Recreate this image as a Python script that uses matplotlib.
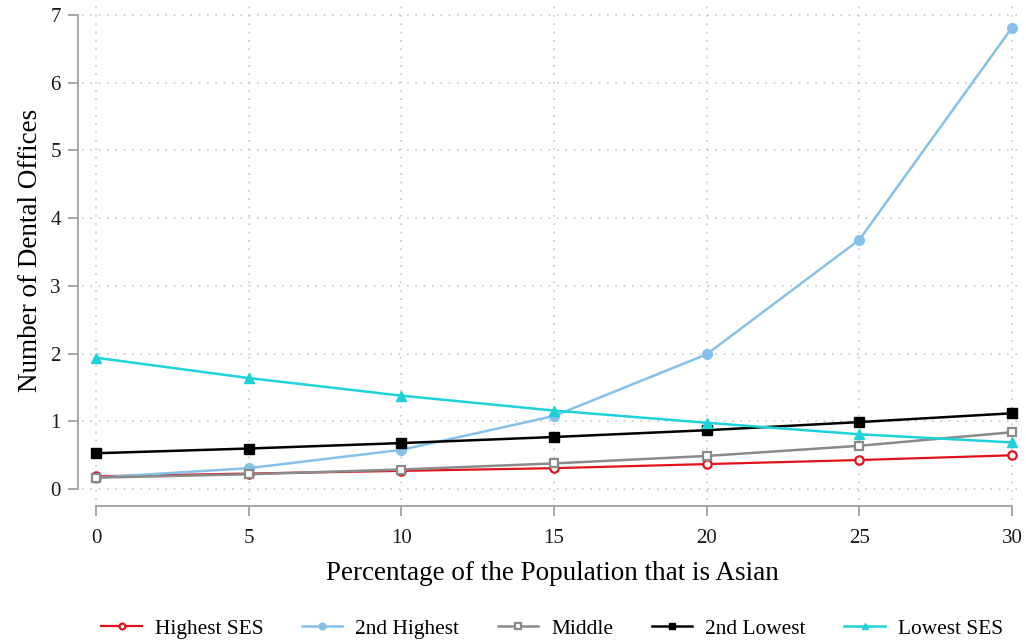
import numpy as np
import matplotlib
matplotlib.use("Agg")
import matplotlib.pyplot as plt

plt.rcParams['font.family'] = ['Liberation Serif', 'DejaVu Serif']

pct_asian = [0, 5, 10, 15, 20, 25, 30]
highest_ses = [0.19, 0.23, 0.27, 0.31, 0.37, 0.43, 0.50]
second_highest = [0.17, 0.31, 0.58, 1.08, 1.99, 3.68, 6.81]
middle = [0.17, 0.22, 0.29, 0.38, 0.49, 0.64, 0.84]
second_lowest = [0.53, 0.60, 0.68, 0.77, 0.87, 0.99, 1.12]
lowest_ses = [1.94, 1.64, 1.38, 1.16, 0.98, 0.81, 0.69]

x_ticks = [0, 5, 10, 15, 20, 25, 30]
y_ticks = [0, 1, 2, 3, 4, 5, 6, 7]

fig = plt.figure(figsize=(10.26, 6.44), dpi=100)
ax = fig.add_axes([82 / 1026, 144 / 644, 940 / 1026, 500 / 644])

ax.plot(pct_asian, highest_ses, color='#e0121b', lw=1.6, marker='o', ms=6,
        mfc='white', mec='#e0121b', mew=1.6, label='Highest SES')
ax.plot(pct_asian, second_highest, color='#85c1e9', lw=1.8, marker='o', ms=7,
        mfc='#85c1e9', mec='#85c1e9', label='2nd Highest')
ax.plot(pct_asian, middle, color='#8a8a8a', lw=1.8, marker='s', ms=6,
        mfc='white', mec='#8a8a8a', mew=1.6, label='Middle')
ax.plot(pct_asian, second_lowest, color='black', lw=1.8, marker='s', ms=7,
        mfc='black', mec='black', label='2nd Lowest')
ax.plot(pct_asian, lowest_ses, color='#1ed2d9', lw=1.8, marker='^', ms=7,
        mfc='#1ed2d9', mec='#1ed2d9', label='Lowest SES')

ax.set_xlim(-0.46, 30.33)
ax.set_ylim(-0.16, 7.22)
ax.set_xticks(x_ticks)
ax.set_yticks(y_ticks)

ax.grid(True, color='#c8c8c8', linestyle=(0, (1, 4)), linewidth=1.2)
ax.set_axisbelow(True)

for s in ['top', 'right']:
    ax.spines[s].set_visible(False)
ax.spines['left'].set_position(('outward', 3))
ax.spines['bottom'].set_position(('outward', 4.5))
ax.spines['left'].set_bounds(0, 7)
ax.spines['bottom'].set_bounds(0, 30)
for s in ['left', 'bottom']:
    ax.spines[s].set_color('#a6a6a6')
    ax.spines[s].set_linewidth(1.4)
ax.tick_params(axis='both', colors='#a6a6a6', length=7.2, width=1.4,
               labelsize=15, labelcolor='#1a1a1a')
ax.tick_params(axis='x', pad=9.5)
ax.tick_params(axis='y', pad=5)

ax.set_xlabel('Percentage of the Population that is Asian', fontsize=19.5, labelpad=9)
ax.set_ylabel('Number of Dental Offices', fontsize=19.5, labelpad=5)

ax.legend(loc='upper center', bbox_to_anchor=(0.5, -0.199), ncol=5, frameon=False,
          fontsize=15.4, handlelength=1.9, columnspacing=1.8, handletextpad=0.6,
          markerscale=0.7)

fig.savefig('out.png', dpi=100)
